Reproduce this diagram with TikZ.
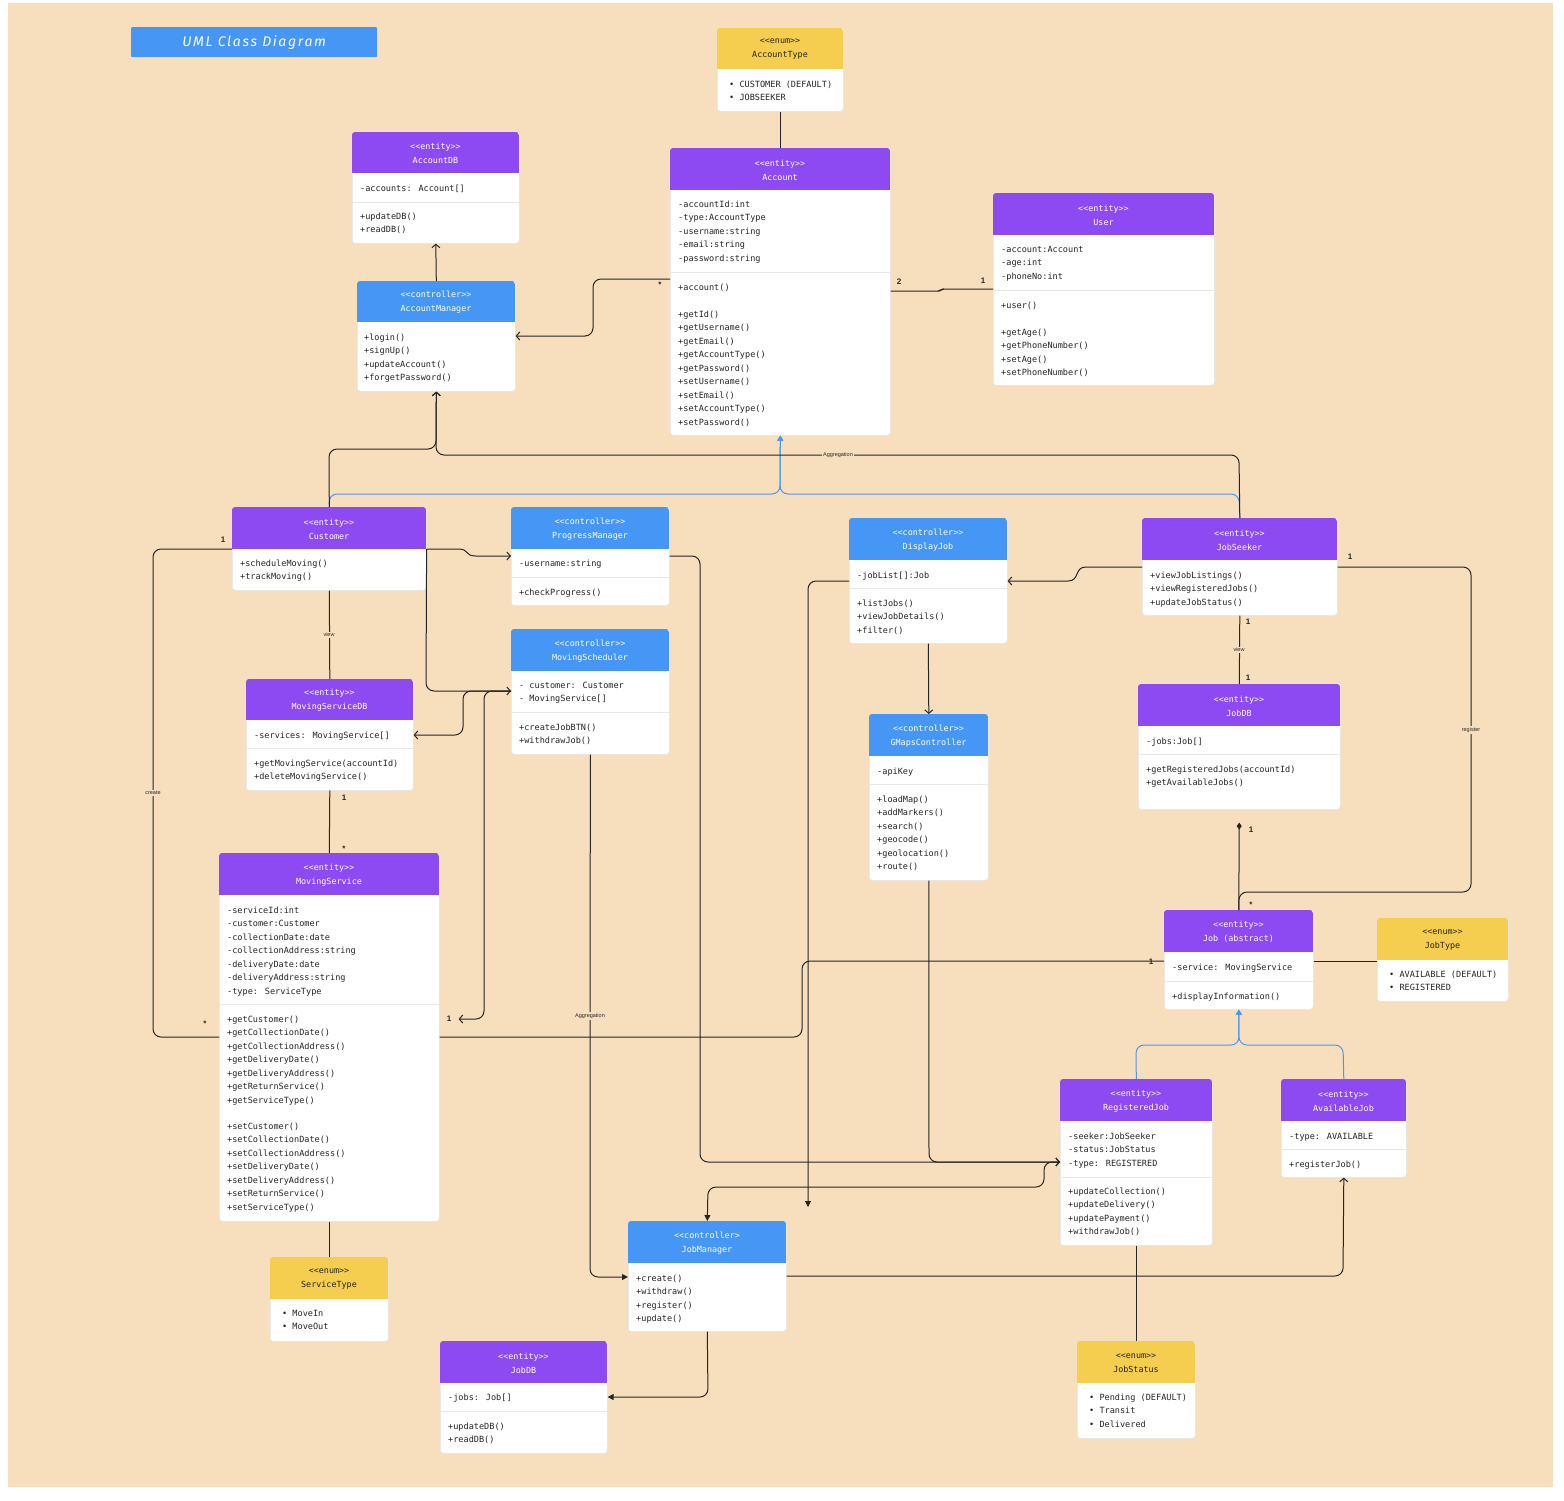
\documentclass[tikz,border=0pt]{standalone}
\usepackage{fontspec}
\setmainfont{Liberation Sans}
\newfontfamily\codefont{DejaVu Sans Mono}
\newfontfamily\notefont{Liberation Sans}
\newfontfamily\titlefont[LetterSpace=12]{Fira Sans}
\usetikzlibrary{arrows.meta}

\definecolor{paper}{HTML}{F7DFBE}
\definecolor{entityc}{HTML}{8D4AF3}
\definecolor{ctrlc}{HTML}{4697F5}
\definecolor{enumc}{HTML}{F5CD4F}
\definecolor{ink}{HTML}{252525}
\definecolor{rulec}{HTML}{E8E8E8}
\definecolor{genblue}{HTML}{4A97F2}

\tikzset{
  boxbody/.style={draw=black!10, fill=white, rounded corners=3pt, inner sep=0pt, line width=0.6pt},
  hdr/.style={font=\codefont\fontsize{8.4}{14}\selectfont, align=center, inner sep=0pt},
  txt/.style={font=\codefont\fontsize{8.55}{13.5}\selectfont, text=ink, inner sep=0pt, anchor=base west},
  divider/.style={draw=rulec, line width=1pt},
  conn/.style={draw=ink, line width=1pt, rounded corners=8pt},
  gen/.style={draw=genblue, line width=1pt, rounded corners=8pt},
  oarr/.style={-{Straight Barb[length=3.5pt,width=8pt]}},
  farr/.style={-{Triangle[length=6pt,width=6pt]}},
  garr/.style={-{Triangle[length=5pt,width=6pt]}},
  diam/.style={-{Diamond[length=7pt,width=5pt]}},
  mult/.style={font=\notefont\bfseries\fontsize{8}{9}\selectfont, text=ink, inner sep=0pt},
  lbl/.style={font=\notefont\fontsize{5.5}{6}\selectfont, text=ink, fill=paper, inner sep=1.2pt},
  titlebox/.style={fill=ctrlc, text=white, minimum width=246pt, minimum height=30pt, inner sep=0pt,
    rounded corners=1pt, font=\titlefont\itshape\fontsize{14}{15}\selectfont}
}

% stereotype brackets, kept apart so no ligature forms
\newcommand\st[1]{<{}<#1>{}>}
% class box: name, left, top, right, bottom, header bottom, header colour, header text colour, title
\newcommand\umlbox[9]{%
  \node[boxbody, anchor=north west, minimum width={(#4-#2)*1pt}, minimum height={(#5-#3)*1pt}] (#1) at (#2,#3) {};
  \begin{scope}
    \clip[rounded corners=3pt] (#2,#3) rectangle (#4,#5);
    \fill[#7] (#2,#3) rectangle (#4,#6);
  \end{scope}
  \node[hdr, text=#8] (#1-head) at ({(#2+#4)/2},{(#3+#6)/2+1}) {#9};
}
\newcommand\umlrule[3]{\draw[divider] (#1,#3) -- (#2,#3);}
% one text line per entry, first baseline at #3, 13.5 apart
\newcommand\umltext[4]{%
  \foreach \ln [count=\k from 0] in {#4} {\node[txt] (#1-\k) at (#2,{#3+13.5*\k}) {\ln};}%
}

\begin{document}
\begin{tikzpicture}[x=1pt, y=-1pt]
\useasboundingbox (0,0) rectangle (1564,1500);
\fill[white] (0,0) rectangle (1564,1500);
\fill[paper] (8,3) rectangle (1553,1487);

\node[titlebox, anchor=north west] (title) at (131,27) {UML Class Diagram};

% ---------- classes ----------
\umlbox{AccountType}{717}{28}{843}{111}{69}{enumc}{ink}{\st{enum}\\AccountType}
\umltext{AccountType-v}{729}{87}{• CUSTOMER (DEFAULT),• JOBSEEKER}

\umlbox{AccountDB}{352}{132}{519}{243}{173}{entityc}{white}{\st{entity}\\AccountDB}
\umltext{AccountDB-a}{360}{191}{-accounts: Account[]}
\umlrule{352}{519}{202}
\umltext{AccountDB-m}{360}{219}{+updateDB(),+readDB()}

\umlbox{Account}{670}{148}{890}{435}{190}{entityc}{white}{\st{entity}\\Account}
\umltext{Account-a}{678}{207}{-accountId:int,-type:AccountType,-username:string,-email:string,-password:string}
\umlrule{670}{890}{272}
\umltext{Account-c}{678}{290}{+account()}
\umltext{Account-m}{678}{317}{+getId(),+getUsername(),+getEmail(),+getAccountType(),+getPassword(),+setUsername(),+setEmail(),+setAccountType(),+setPassword()}

\umlbox{User}{993}{193}{1214}{385}{235}{entityc}{white}{\st{entity}\\User}
\umltext{User-a}{1001}{252}{-account:Account,-age:int,-phoneNo:int}
\umlrule{993}{1214}{290}
\umltext{User-c}{1001}{308}{+user()}
\umltext{User-m}{1001}{335}{+getAge(),+getPhoneNumber(),+setAge(),+setPhoneNumber()}

\umlbox{AccountManager}{357}{281}{515}{391}{322}{ctrlc}{white}{\st{controller}\\AccountManager}
\umltext{AccountManager-m}{364}{340}{+login(),+signUp(),+updateAccount(),+forgetPassword()}

\umlbox{Customer}{232}{507}{426}{590}{549}{entityc}{white}{\st{entity}\\Customer}
\umltext{Customer-m}{240}{566}{+scheduleMoving(),+trackMoving()}

\umlbox{ProgressManager}{511}{507}{669}{605}{549}{ctrlc}{white}{\st{controller}\\ProgressManager}
\umltext{ProgressManager-a}{519}{566}{-username:string}
\umlrule{511}{669}{577}
\umltext{ProgressManager-m}{519}{595}{+checkProgress()}

\umlbox{MovingScheduler}{511}{629}{669}{754}{671}{ctrlc}{white}{\st{controller}\\MovingScheduler}
\umltext{MovingScheduler-a}{519}{688}{- customer: Customer,- MovingService[]}
\umlrule{511}{669}{712}
\umltext{MovingScheduler-m}{519}{730}{+createJobBTN(),+withdrawJob()}

\umlbox{MovingServiceDB}{246}{679}{413}{790}{720}{entityc}{white}{\st{entity}\\MovingServiceDB}
\umltext{MovingServiceDB-a}{254}{738}{-services: MovingService[]}
\umlrule{246}{413}{748}
\umltext{MovingServiceDB-m}{254}{766}{+getMovingService(accountId),+deleteMovingService()}

\umlbox{MovingService}{219}{853}{439}{1221}{895}{entityc}{white}{\st{entity}\\MovingService}
\umltext{MovingService-a}{227}{913}{-serviceId:int,-customer:Customer,-collectionDate:date,-collectionAddress:string,-deliveryDate:date,-deliveryAddress:string,-type: ServiceType}
\umlrule{219}{439}{1004}
\umltext{MovingService-g}{227}{1022}{+getCustomer(),+getCollectionDate(),+getCollectionAddress(),+getDeliveryDate(),+getDeliveryAddress(),+getReturnService(),+getServiceType()}
\umltext{MovingService-s}{227}{1129}{+setCustomer(),+setCollectionDate(),+setCollectionAddress(),+setDeliveryDate(),+setDeliveryAddress(),+setReturnService(),+setServiceType()}

\umlbox{ServiceType}{270}{1257}{388}{1341}{1299}{enumc}{ink}{\st{enum}\\ServiceType}
\umltext{ServiceType-v}{282}{1316}{• MoveIn,• MoveOut}

\umlbox{DisplayJob}{849}{518}{1007}{643}{560}{ctrlc}{white}{\st{controller}\\DisplayJob}
\umltext{DisplayJob-a}{857}{578}{-jobList[]:Job}
\umlrule{849}{1007}{588}
\umltext{DisplayJob-m}{857}{606}{+listJobs(),+viewJobDetails(),+filter()}

\umlbox{GMapsController}{869}{714}{988}{880}{756}{ctrlc}{white}{\st{controller}\\GMapsController}
\umltext{GMapsController-a}{877}{774}{-apiKey}
\umlrule{869}{988}{784}
\umltext{GMapsController-m}{877}{802}{+loadMap(),+addMarkers(),+search(),+geocode(),+geolocation(),+route()}

\umlbox{JobSeeker}{1142}{518}{1337}{615}{560}{entityc}{white}{\st{entity}\\JobSeeker}
\umltext{JobSeeker-m}{1150}{578}{+viewJobListings(),+viewRegisteredJobs(),+updateJobStatus()}

\umlbox{JobDB}{1138}{684}{1340}{809}{726}{entityc}{white}{\st{entity}\\JobDB}
\umltext{JobDB-a}{1146}{744}{-jobs:Job[]}
\umlrule{1138}{1340}{754}
\umltext{JobDB-m}{1146}{772}{+getRegisteredJobs(accountId),+getAvailableJobs()}

\umlbox{Job}{1164}{910}{1313}{1009}{952}{entityc}{white}{\st{entity}\\Job (abstract)}
\umltext{Job-a}{1172}{970}{-service: MovingService}
\umlrule{1164}{1313}{981}
\umltext{Job-m}{1172}{999}{+displayInformation()}

\umlbox{JobType}{1377}{918}{1508}{1001}{960}{enumc}{ink}{\st{enum}\\JobType}
\umltext{JobType-v}{1389}{977}{• AVAILABLE (DEFAULT),• REGISTERED}

\umlbox{RegisteredJob}{1060}{1079}{1212}{1245}{1121}{entityc}{white}{\st{entity}\\RegisteredJob}
\umltext{RegisteredJob-a}{1068}{1139}{-seeker:JobSeeker,-status:JobStatus,-type: REGISTERED}
\umlrule{1060}{1212}{1177}
\umltext{RegisteredJob-m}{1068}{1194}{+updateCollection(),+updateDelivery(),+updatePayment(),+withdrawJob()}

\umlbox{AvailableJob}{1281}{1079}{1406}{1177}{1121}{entityc}{white}{\st{entity}\\AvailableJob}
\umltext{AvailableJob-a}{1289}{1139}{-type: AVAILABLE}
\umlrule{1281}{1406}{1149}
\umltext{AvailableJob-m}{1289}{1167}{+registerJob()}

\umlbox{JobManager}{628}{1221}{786}{1331}{1263}{ctrlc}{white}{<{}<controller>\\JobManager}
\umltext{JobManager-m}{636}{1281}{+create(),+withdraw(),+register(),+update()}

\umlbox{JobStore}{440}{1341}{607}{1453}{1383}{entityc}{white}{\st{entity}\\JobDB}
\umltext{JobStore-a}{448}{1400}{-jobs: Job[]}
\umlrule{440}{607}{1411}
\umltext{JobStore-m}{448}{1429}{+updateDB(),+readDB()}

\umlbox{JobStatus}{1077}{1341}{1195}{1438}{1383}{enumc}{ink}{\st{enum}\\JobStatus}
\umltext{JobStatus-v}{1089}{1400}{• Pending (DEFAULT),• Transit,• Delivered}

% ---------- generalisations ----------
\draw[gen, garr] (Customer.north) -- (329,494) -- (780,494) -- (Account.south);
\draw[gen, garr] (JobSeeker.north) -- (1239,494) -- (780,494) -- (Account.south);
\draw[gen, garr] (RegisteredJob.north) -- (1136,1045) -- (1239,1045) -- (Job.south);
\draw[gen, garr] (AvailableJob.north) -- (1343,1045) -- (1239,1045) -- (Job.south);

% ---------- associations ----------
\draw[conn] (AccountType.south) -- (Account.north);
\draw[conn, oarr] (AccountManager.north) -- (AccountDB.south);
\draw[conn, oarr] (Account.west |- 0,279) -- (593,279) -- (593,336) -- (AccountManager.east |- 0,336);
\draw[conn, rounded corners=2pt] (Account.east |- 0,291) -- (940,291) -- (942,289) -- (User.west |- 0,289);

\draw[conn, oarr] (Customer.north) -- (329,449) -- (436,449) -- (AccountManager.south);
\draw[conn, oarr] (JobSeeker.north) -- (1239,455) -- (436,455) -- (AccountManager.south);

\draw[conn] (Customer.west |- 0,549) -- (153,549) -- (153,1037) -- (MovingService.west |- 0,1037);
\draw[conn, sharp corners, oarr] (Customer.east |- 0,549) -- (458,549) .. controls (470,549) and (464,556) .. (476,556) -- (ProgressManager.west |- 0,556);
\draw[conn, oarr] (Customer.east |- 0,549) -- (426,691) -- (MovingScheduler.west |- 0,691);
\draw[conn, oarr] (MovingScheduler.west |- 0,691) -- (463,691) -- (463,735) -- (MovingServiceDB.east |- 0,735);
\draw[conn, oarr, shorten >=19pt] (MovingScheduler.west |- 0,691) -- (484,691) -- (484,1019) -- (MovingService.east |- 0,1019);
\draw[conn] (Customer.south) -- (MovingServiceDB.north);
\draw[conn] (MovingServiceDB.south) -- (MovingService.north);
\draw[conn] (MovingService.south) -- (ServiceType.north);

\draw[conn, oarr] (ProgressManager.east |- 0,556) -- (700,556) -- (700,1162) -- (RegisteredJob.west |- 0,1162);
\draw[conn, oarr] (GMapsController.south) -- (929,1162) -- (RegisteredJob.west |- 0,1162);
\draw[conn, farr] (MovingScheduler.south) -- (590,1277) -- (JobManager.west |- 0,1277);

\coordinate (jobsOut) at (808,1207);
\draw[conn, farr] (DisplayJob.west |- 0,581) -- (808,581) -- (jobsOut);
\draw[conn, sharp corners, oarr] (JobSeeker.west |- 0,567) -- (1086,567) .. controls (1074,567) and (1080,581) .. (1068,581) -- (DisplayJob.east |- 0,581);
\draw[conn, oarr] (DisplayJob.south) -- (GMapsController.north);

\draw[conn] (JobSeeker.east |- 0,567) -- (1471,567) -- (1471,892) -- (1239,892) -- (Job.north);
\draw[conn] (JobSeeker.south) -- (JobDB.north);
\draw[conn, diam, shorten >=13pt] (Job.north) -- (JobDB.south);
\draw[conn] (Job.west |- 0,961) -- (802,961) -- (802,1037) -- (MovingService.east |- 0,1037);
\draw[conn] (Job.east |- 0,961) -- (JobType.west |- 0,961);

\draw[conn, farr] (RegisteredJob.west |- 0,1162) -- (1044,1162) -- (1044,1187) -- (708,1187) -- (JobManager.north);
\draw[conn, oarr] (JobManager.east |- 0,1276) -- (1343,1276) -- (AvailableJob.south);
\draw[conn, farr] (JobManager.south) -- (708,1397) -- (JobStore.east |- 0,1397);
\draw[conn] (RegisteredJob.south) -- (JobStatus.north);

% ---------- labels ----------
\node[lbl] (agg1) at (838,455) {Aggregation};
\node[lbl] (agg2) at (590,1016) {Aggregation};
\node[lbl] (view1) at (329,635) {view};
\node[lbl] (view2) at (1239,650) {view};
\node[lbl] (create) at (153,793) {create};
\node[lbl] (register) at (1471,730) {register};

\node[mult] (m1) at (660,285) {*};
\node[mult] (m2) at (899,282) {2};
\node[mult] (m3) at (983,281) {1};
\node[mult] (m4) at (223,540) {1};
\node[mult] (m5) at (344,798) {1};
\node[mult] (m6) at (344,849) {*};
\node[mult] (m7) at (205,1024) {*};
\node[mult] (m8) at (449,1019) {1};
\node[mult] (m9) at (1350,557) {1};
\node[mult] (m10) at (1248,622) {1};
\node[mult] (m11) at (1248,678) {1};
\node[mult] (m12) at (1251,830) {1};
\node[mult] (m13) at (1251,905) {*};
\node[mult] (m14) at (1151,962) {1};
\end{tikzpicture}
\end{document}
